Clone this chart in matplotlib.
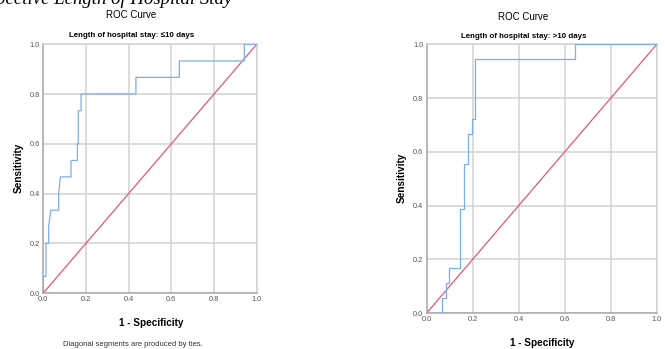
import matplotlib

matplotlib.use("Agg")
import matplotlib.pyplot as plt  # noqa: E402

W, H = 665, 349

# ROC curve, stay <= 10 days (15 positives, steps of 1/15)
fpr_short = [0.0, 0.0, 0.0125, 0.0125, 0.025, 0.025, 0.035, 0.072, 0.072, 0.08, 0.13, 0.13,
             0.16, 0.16, 0.164, 0.164, 0.177, 0.177, 0.434, 0.434, 0.6375, 0.6375, 0.942, 0.942, 1.0]
tpr_short = [0.0, 0.067, 0.067, 0.2, 0.2, 0.267, 0.333, 0.333, 0.4, 0.467, 0.467, 0.533,
             0.533, 0.6, 0.6, 0.733, 0.733, 0.8, 0.8, 0.867, 0.867, 0.933, 0.933, 1.0, 1.0]

# ROC curve, stay > 10 days (18 positives, steps of 1/18)
fpr_long = [0.0, 0.067, 0.067, 0.083, 0.083, 0.097, 0.097, 0.146, 0.146, 0.164, 0.164,
            0.181, 0.181, 0.196, 0.196, 0.212, 0.212, 0.645, 0.645, 1.0]
tpr_long = [0.0, 0.0, 0.056, 0.056, 0.111, 0.111, 0.167, 0.167, 0.389, 0.389, 0.556,
            0.556, 0.667, 0.667, 0.722, 0.722, 0.944, 0.944, 1.0, 1.0]

ticks = [0.0, 0.2, 0.4, 0.6, 0.8, 1.0]
tick_labels = ["0.0", "0.2", "0.4", "0.6", "0.8", "1.0"]

ROC_COLOR = "#7eaee8"
REF_COLOR = "#e4577a"
GRID_COLOR = "#d2d2d2"
SANS = "Liberation Sans"


def px_box(x0, x1, ytop, ybot):
    return [x0 / W, 1 - ybot / H, (x1 - x0) / W, (ybot - ytop) / H]


def draw_roc(ax, fpr, tpr):
    ax.plot([0, 1], [0, 1], color=REF_COLOR, lw=0.9, zorder=2)
    ax.plot(fpr, tpr, color=ROC_COLOR, lw=0.9, zorder=3)
    ax.set_xlim(0, 1)
    ax.set_ylim(0, 1)
    ax.set_xticks(ticks)
    ax.set_yticks(ticks)
    ax.set_xticklabels(tick_labels, fontsize=5.3, color="#555555", family=SANS)
    ax.set_yticklabels(tick_labels, fontsize=5.3, color="#555555", family=SANS)
    ax.tick_params(length=0, pad=2.5)
    ax.grid(True, color=GRID_COLOR, lw=1.1, zorder=0)
    for side in ["top", "right"]:
        ax.spines[side].set_color(GRID_COLOR)
        ax.spines[side].set_linewidth(1.1)
    for side in ["left", "bottom"]:
        ax.spines[side].set_color("#a8a8a8")
        ax.spines[side].set_linewidth(1.1)
    ax.set_axisbelow(True)


def fig_text(fig, x, y, s, **kw):
    fig.text(x / W, 1 - y / H, s, **kw)


fig = plt.figure(figsize=(W / 100, H / 100), dpi=100)

ax1 = fig.add_axes(px_box(43.3, 256.7, 44.3, 293))
draw_roc(ax1, fpr_short, tpr_short)
ax2 = fig.add_axes(px_box(426.7, 656.7, 44.4, 313))
draw_roc(ax2, fpr_long, tpr_long)

# caption of the page above, cut off by the top edge as in the source image
fig_text(fig, 232, 3.5, "Respective Length of Hospital Stay", ha="right", va="baseline",
         fontsize=13.5, style="italic", family="Liberation Serif")

fig_text(fig, 131, 15, "ROC Curve", ha="center", va="center", fontsize=7, family=SANS)
fig_text(fig, 523, 17, "ROC Curve", ha="center", va="center", fontsize=7, family=SANS)
fig_text(fig, 132, 35, "Length of hospital stay: \u226410 days", ha="center", va="center",
         fontsize=5.7, fontweight="bold", family=SANS)
fig_text(fig, 524, 37, "Length of hospital stay: >10 days", ha="center", va="center",
         fontsize=5.7, fontweight="bold", family=SANS)

fig_text(fig, 151, 322.7, "1 - Specificity", ha="center", va="center",
         fontsize=7.2, fontweight="bold", family=SANS)
fig_text(fig, 542, 342.7, "1 - Specificity", ha="center", va="center",
         fontsize=7.2, fontweight="bold", family=SANS)
fig_text(fig, 18.3, 168.3, "Sensitivity", ha="center", va="center", rotation=90,
         fontsize=7.2, fontweight="bold", family=SANS)
fig_text(fig, 401.7, 178.3, "Sensitivity", ha="center", va="center", rotation=90,
         fontsize=7.2, fontweight="bold", family=SANS)

fig_text(fig, 132.5, 345, "Diagonal segments are produced by ties.", ha="center", va="center",
         fontsize=5.5, color="#333333", family=SANS)

fig.savefig("out.png", dpi=100)
